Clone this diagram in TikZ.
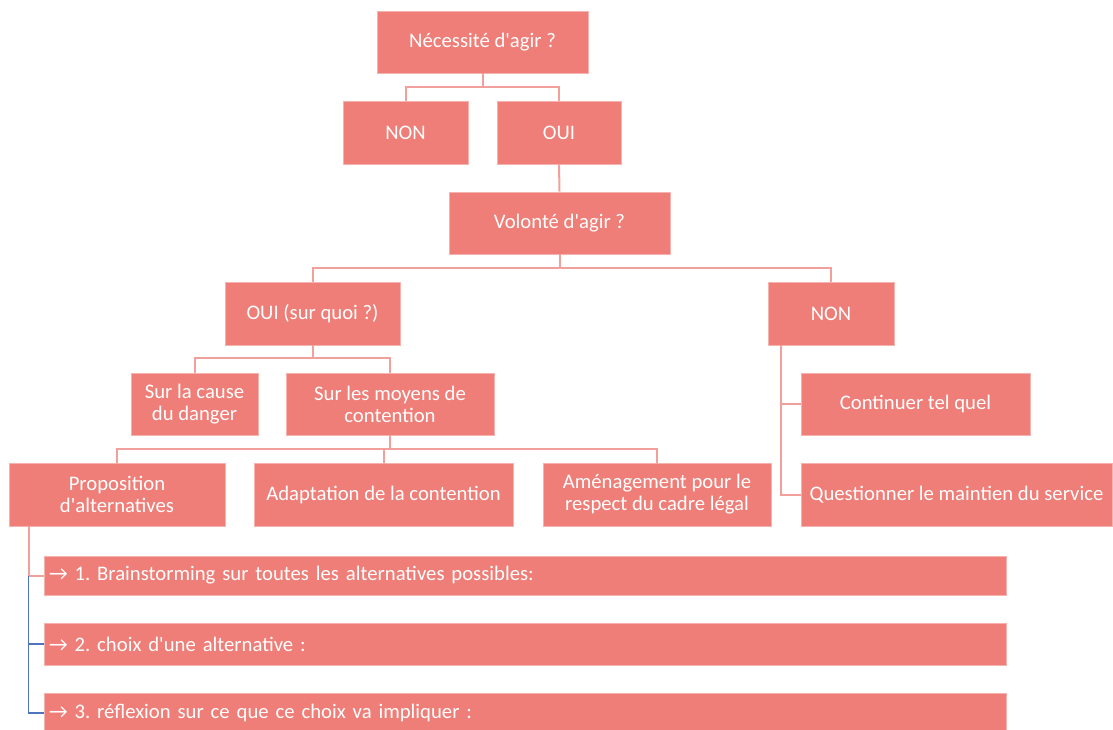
\documentclass[tikz,border=0pt]{standalone}
\usepackage{fontspec}
\setmainfont{Carlito}[Ligatures=TeXOff]
\usepackage{xcolor}
\usetikzlibrary{calc}
\frenchspacing

\definecolor{saumon}{RGB}{238,126,119}
\definecolor{bordrose}{RGB}{246,178,174}
\definecolor{lienrose}{RGB}{242,160,156}
\definecolor{lienbleu}{RGB}{79,116,190}

\tikzset{
  boite/.style={fill=saumon, draw=bordrose, line width=0.8pt, text=white,
    align=center, inner sep=2pt, font=\fontsize{20.7}{22}\selectfont},
  etape/.style={boite, text width=952pt, align=left, inner xsep=5pt},
  lien/.style={draw=lienrose, line width=2pt},
  lienb/.style={draw=lienbleu, line width=1.6pt}
}

\begin{document}
\begin{tikzpicture}[x=1pt,y=-1pt]
  \useasboundingbox (0,0) rectangle (1113,729);
  \clip (0,0) rectangle (1113,729);

  % First question and its answers
  \node[boite, minimum width=211, minimum height=62] (necessite) at (482.5,42) {Nécessité d'agir ?};
  \node[boite, minimum width=125, minimum height=63] (non1) at (405.5,132.5) {NON};
  \node[boite, minimum width=124, minimum height=63] (oui1) at (559,132.5) {OUI};

  % Second question
  \node[boite, minimum width=221, minimum height=62] (volonte) at (559.5,223) {Volonté d'agir ?};
  \node[boite, minimum width=175, minimum height=63] (ouiquoi) at (312.5,313.5) {OUI (sur quoi ?)};
  \node[boite, minimum width=126, minimum height=63] (non2) at (831,313.5) {NON};

  % Branches under OUI (sur quoi ?)
  \node[boite, minimum width=127, minimum height=62] (cause) at (194.5,404) {Sur la cause\\du danger};
  \node[boite, minimum width=208, minimum height=62] (moyens) at (390,404) {Sur les moyens de\\contention};

  % Branches under NON
  \node[boite, minimum width=229, minimum height=62] (continuer) at (915.5,404) {Continuer tel quel};
  \node[boite, minimum width=311, minimum height=63] (questionner) at (956.5,494.5) {Questionner le maintien du service};

  % Means of restraint
  \node[boite, minimum width=216, minimum height=63] (proposition) at (117,494.5) {Proposition\\d'alternatives};
  \node[boite, minimum width=259, minimum height=63] (adaptation) at (383.5,494.5) {Adaptation de la contention};
  \node[boite, minimum width=228, minimum height=63] (amenagement) at (657,494.5) {Aménagement pour le\\respect du cadre légal};

  % Steps of the alternatives
  \node[etape, minimum height=39] (etape1) at (525,575.5) {→ 1. Brainstorming sur toutes les alternatives possibles:};
  \node[etape, minimum height=42] (etape2) at (525,644) {→ 2. choix d'une alternative :};
  \node[etape, minimum height=40] (etape3) at (525,713) {→ 3. réflexion sur ce que ce choix va impliquer :};

  % Tree connectors
  \draw[lien] (necessite.south) -- ++(0,14) -| (non1.north);
  \draw[lien] (necessite.south) -- ++(0,14) -| (oui1.north);
  \draw[lien] (oui1.south) -- (volonte.north);
  \draw[lien] (volonte.south) -- ++(0,14) -| (ouiquoi.north);
  \draw[lien] (volonte.south) -- ++(0,14) -| (non2.north);
  \draw[lien] (ouiquoi.south) -- ++(0,13) -| (cause.north);
  \draw[lien] (ouiquoi.south) -- ++(0,13) -| (moyens.north);
  \draw[lien] (moyens.south) -- ++(0,14) -| (proposition.north);
  \draw[lien] (moyens.south) -- ++(0,14) -| (adaptation.north);
  \draw[lien] (moyens.south) -- ++(0,14) -| (amenagement.north);

  % Side stems
  \coordinate (tigenon) at ($(non2.south west)+(13,0)$);
  \draw[lien] (tigenon) |- (continuer.west);
  \draw[lien] (tigenon) |- (questionner.west);

  \coordinate (tigeprop) at ($(proposition.south west)+(20,0)$);
  \draw[lien] (tigeprop) |- (etape1.west);
  \draw[lienb] (tigeprop |- etape1.west) |- (etape2.west);
  \draw[lienb] (tigeprop |- etape1.west) |- (etape3.west);

\end{tikzpicture}
\end{document}
